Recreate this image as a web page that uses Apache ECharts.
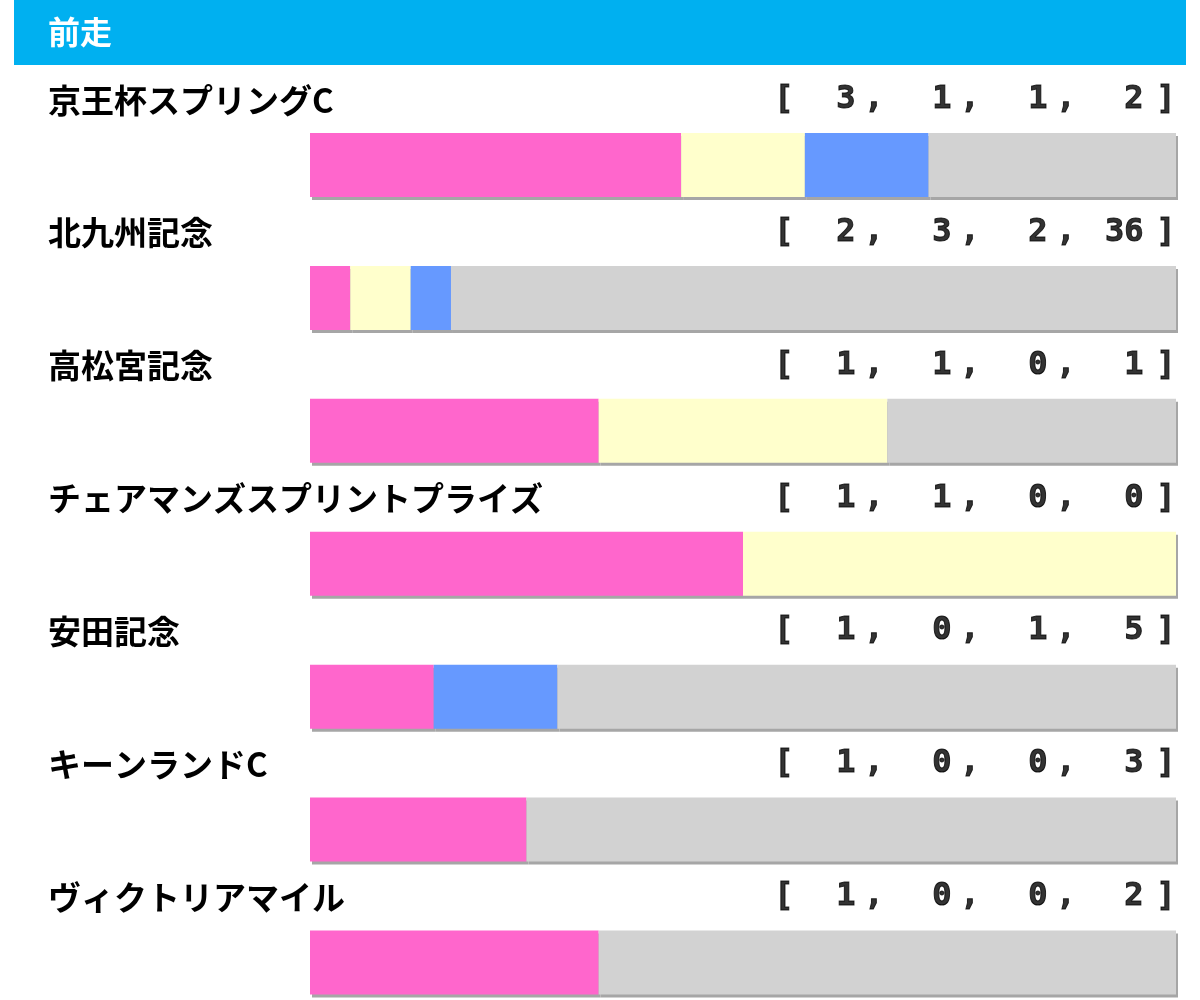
<!DOCTYPE html>
<html>
<head>
<meta charset="utf-8">
<script src="https://cdn.jsdelivr.net/npm/echarts@6/dist/echarts.min.js"></script>
<style>
    html, body { margin: 0; padding: 0; background: #fff; }
    #chart { width: 1200px; height: 1000px; }
</style>
</head>
<body>
<div id="chart"></div>
<script>
var races = ['京王杯スプリングC', '北九州記念', '高松宮記念', 'チェアマンズスプリントプライズ', '安田記念', 'キーンランドC', 'ヴィクトリアマイル'];
var firstList = [3, 2, 1, 1, 1, 1, 1];
var secondList = [1, 3, 1, 1, 0, 0, 0];
var thirdList = [1, 2, 0, 0, 1, 0, 0];
var otherList = [2, 36, 1, 0, 5, 3, 2];

var colors = ['#FF66CC', '#FFFFCC', '#6699FF', '#D2D2D2'];

var jpFont = '"Noto Sans CJK JP", "Noto Sans", sans-serif';
var monoFont = '"DejaVu Sans Mono", "Liberation Mono", monospace';

function percentList(list) {
    return list.map(function (v, i) {
        var total = firstList[i] + secondList[i] + thirdList[i] + otherList[i];
        return total == 0 ? 0 : v / total * 100;
    });
}

// all rich tokens are right aligned, so they are laid out from the right edge
function recordText(i) {
    return '{b|[}' +
        '{f|' + firstList[i] + '}{c|,}' +
        '{n|' + secondList[i] + '}{c|,}' +
        '{n|' + thirdList[i] + '}{c|,}' +
        '{n|' + otherList[i] + '}{e|]}';
}

function monoStyle(w) {
    return {
        width: w,
        align: 'right',
        fontFamily: monoFont,
        fontWeight: 'bold',
        fontSize: 32,
        color: '#000',
        textBorderColor: '#000',
        textBorderWidth: 1
    };
}

var chart = echarts.init(document.getElementById('chart'), null, {renderer: 'canvas'});

function barSeries(name, list, color, withName) {
    var s = {
        name: name,
        type: 'bar',
        stack: 'total',
        barWidth: 64,
        data: percentList(list),
        itemStyle: {
            color: color,
            shadowColor: '#A6A6A6',
            shadowBlur: 0,
            shadowOffsetX: 2,
            shadowOffsetY: 3
        },
        emphasis: {disabled: true},
        silent: true
    };
    if (withName) {
        s.label = {
            show: true,
            position: [-262, -33],
            align: 'left',
            verticalAlign: 'middle',
            color: '#000',
            fontFamily: jpFont,
            fontWeight: 'bold',
            fontSize: 33,
            formatter: function (p) {
                return races[p.dataIndex];
            }
        };
    }
    return s;
}

chart.setOption({
    backgroundColor: '#fff',
    animation: false,
    title: {
        text: '前走',
        left: 43,
        top: 11,
        textStyle: {
            color: '#fff',
            fontFamily: jpFont,
            fontWeight: 'bold',
            fontSize: 32
        }
    },
    graphic: [{
        type: 'rect',
        z: -1,
        shape: {x: 14, y: 0, width: 1172, height: 65},
        style: {fill: '#00B0F0'}
    }],
    grid: {
        left: 310,
        right: 24,
        top: 165,
        bottom: 37.5
    },
    xAxis: {
        type: 'value',
        min: 0,
        max: 100,
        show: false
    },
    yAxis: {
        type: 'category',
        inverse: true,
        boundaryGap: false,
        data: races,
        show: false
    },
    series: [
        barSeries('1着', firstList, colors[0], true),
        barSeries('2着', secondList, colors[1], false),
        barSeries('3着', thirdList, colors[2], false),
        barSeries('着外', otherList, colors[3], false),
        {
            name: 'record',
            type: 'scatter',
            symbolSize: 1,
            itemStyle: {color: 'rgba(0,0,0,0)'},
            silent: true,
            data: races.map(function (r, i) { return [100, i]; }),
            label: {
                show: true,
                position: [0, -65],
                align: 'right',
                verticalAlign: 'middle',
                color: '#000',
                fontFamily: monoFont,
                fontWeight: 'bold',
                fontSize: 32,
                formatter: function (p) {
                    return recordText(p.dataIndex);
                },
                rich: {
                    b: monoStyle(20),
                    f: monoStyle(62),
                    n: monoStyle(68),
                    c: monoStyle(28),
                    e: monoStyle(32)
                }
            }
        }
    ]
});
</script>
</body>
</html>
